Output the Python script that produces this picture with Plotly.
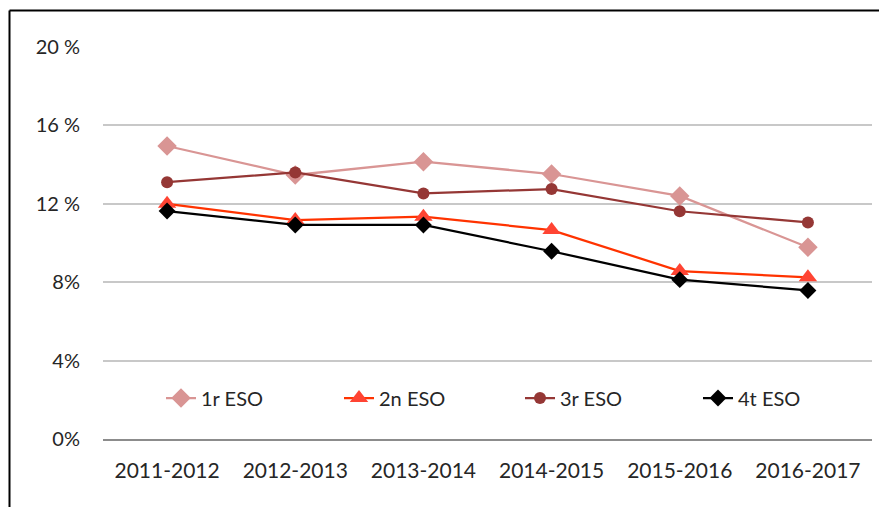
import plotly.graph_objects as go

years = ["2011-2012", "2012-2013", "2013-2014", "2014-2015", "2015-2016", "2016-2017"]
eso1 = [14.95, 13.47, 14.15, 13.52, 12.40, 9.78]
eso2 = [12.0, 11.17, 11.34, 10.66, 8.57, 8.25]
eso3 = [13.10, 13.60, 12.53, 12.75, 11.62, 11.05]
eso4 = [11.63, 10.92, 10.92, 9.58, 8.13, 7.58]
ytick_vals = [0, 4, 8, 12, 16, 20]
ytick_text = ["0%", "4%", "8%", "12 %", "16 %", "20 %"]

FONT = "Lato, 'Open Sans', sans-serif"

OFF = 8  # page body offset
W, H = 887 - OFF, 507 - OFF
L, R, T, B = 103 - OFF, 15, 47 - OFF, 68
pw, ph = W - L - R, H - T - B

def px_x(x):
    return (x - OFF - L) / pw

def px_y(y):
    return (H - B - (y - OFF)) / ph

fig = go.Figure()
fig.add_trace(go.Scatter(x=years, y=eso1, name="1r ESO", mode="lines+markers",
                         line=dict(color="#D99594", width=2.25), legend="legend",
                         marker=dict(symbol="diamond", size=15, color="#D99594")))
fig.add_trace(go.Scatter(x=years, y=eso2, name="2n ESO", mode="lines+markers",
                         line=dict(color="#FF3300", width=2.25), legend="legend2",
                         marker=dict(symbol="triangle-up", size=16, color="#FF4433")))
fig.add_trace(go.Scatter(x=years, y=eso3, name="3r ESO", mode="lines+markers",
                         line=dict(color="#953735", width=2.25), legend="legend3",
                         marker=dict(symbol="circle", size=12, color="#953735")))
fig.add_trace(go.Scatter(x=years, y=eso4, name="4t ESO", mode="lines+markers",
                         line=dict(color="#000000", width=2.25), legend="legend4",
                         marker=dict(symbol="diamond", size=13, color="#000000")))

def leg(xpx):
    return dict(orientation="h", x=px_x(xpx), xanchor="left",
                y=px_y(398), yanchor="middle",
                font=dict(family=FONT, size=20, color="#262626"),
                bgcolor="rgba(0,0,0,0)")

fig.update_layout(
    width=W, height=H,
    margin=dict(l=L, r=R, t=T, b=B),
    paper_bgcolor="white", plot_bgcolor="white",
    font=dict(family=FONT, size=20, color="#262626"),
    showlegend=True,
    legend=leg(161), legend2=leg(339), legend3=leg(520), legend4=leg(698),
    xaxis=dict(type="category", range=[-0.5, 5.5], showgrid=False,
               showline=True, linecolor="#8C8C8C", linewidth=2,
               ticks="", ticklabelstandoff=12,
               tickfont=dict(family=FONT, size=21, color="#262626")),
    yaxis=dict(range=[0, 20], tickvals=ytick_vals, ticktext=ytick_text,
               showgrid=True, gridcolor="#C8C8C8", gridwidth=2,
               zeroline=False, showline=False, ticks="",
               ticklabelstandoff=22,
               tickfont=dict(family=FONT, size=20, color="#262626")),
    shapes=[
        dict(type="line", xref="paper", yref="paper",
             x0=px_x(9.5), x1=px_x(900), y0=px_y(10.5), y1=px_y(10.5),
             line=dict(color="black", width=2)),
        dict(type="line", xref="paper", yref="paper",
             x0=px_x(9.5), x1=px_x(9.5), y0=px_y(10.5), y1=px_y(520),
             line=dict(color="black", width=2)),
    ],
)
fig.write_html("out.html")
